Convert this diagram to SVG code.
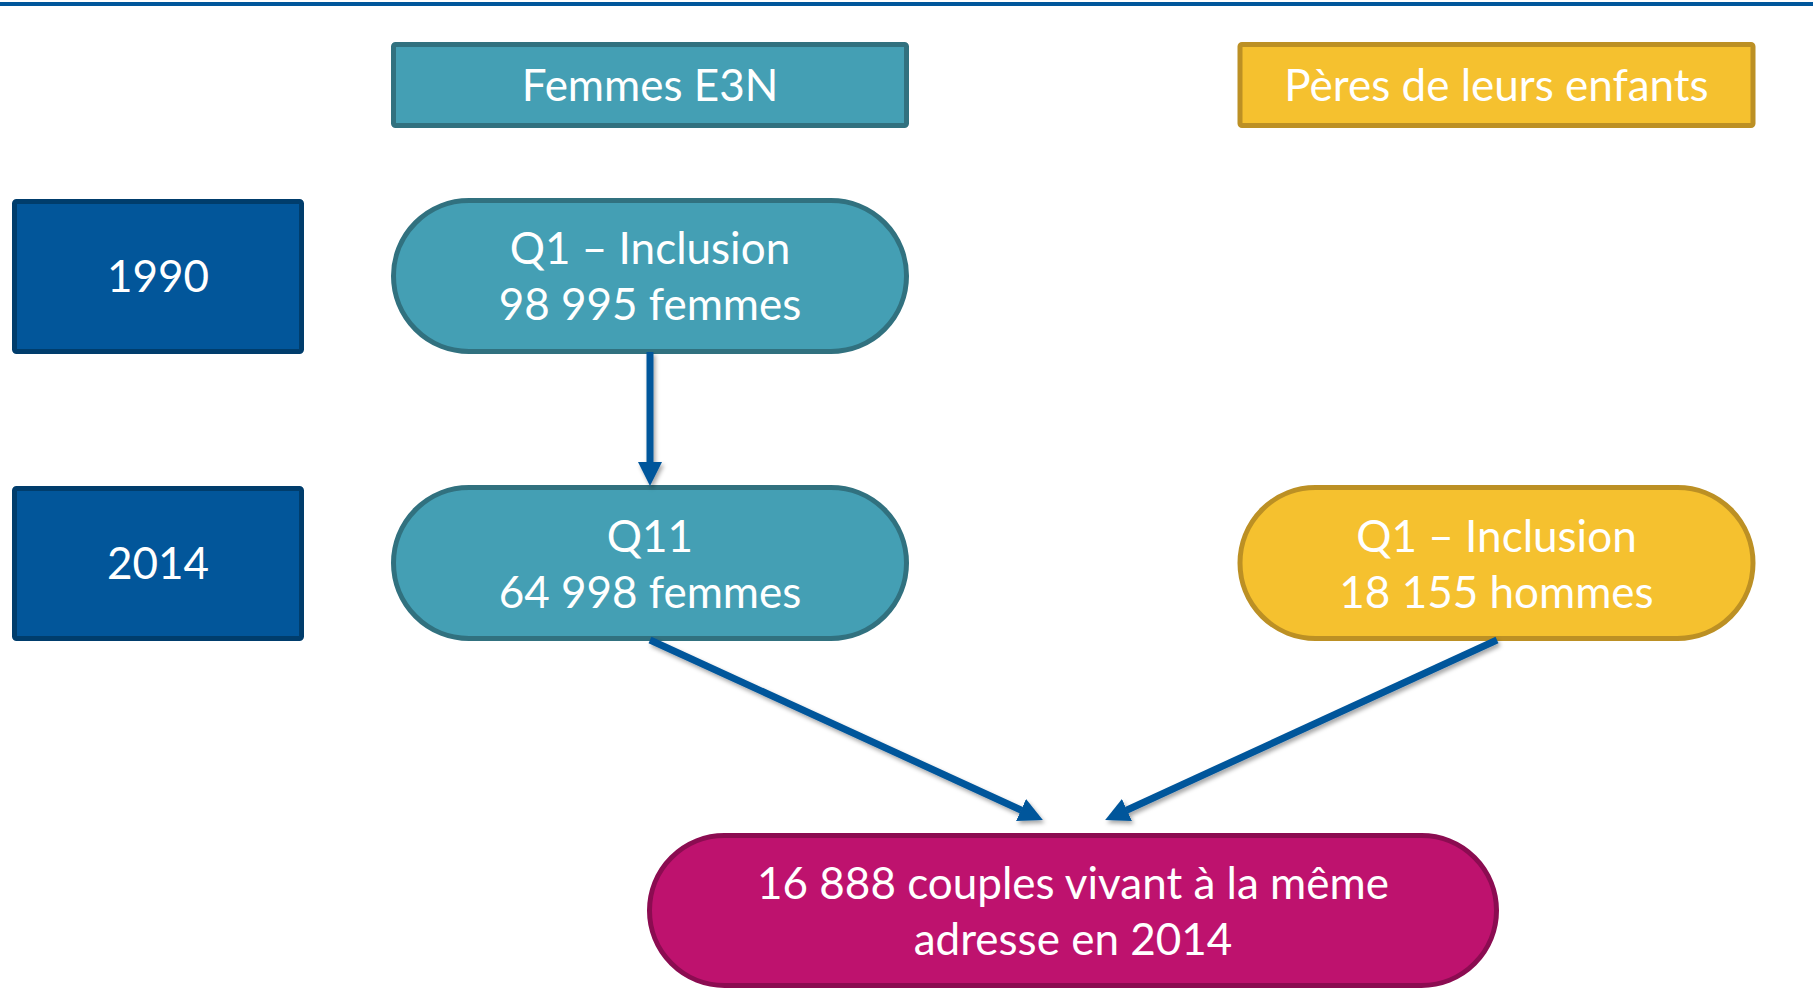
<svg xmlns="http://www.w3.org/2000/svg" width="1813" height="990" viewBox="0 0 1813 990">
  <style>
    .t { font-family: Lato, "Liberation Sans", sans-serif; font-size: 44px; fill: #ffffff; text-anchor: middle; }
    .teal { fill: #449FB4; stroke: #31717F; stroke-width: 5; }
    .year { fill: #02569A; stroke: #003D6C; stroke-width: 5; }
    .yel { fill: #F5C12F; stroke: #BC9024; stroke-width: 5; }
    .mag { fill: #BE126E; stroke: #8B0C51; stroke-width: 5; }
    .arrow { fill: none; stroke: #00569B; stroke-width: 7; marker-end: url(#head); }
  </style>
  <defs>
    <marker id="head" markerUnits="userSpaceOnUse" markerWidth="24" markerHeight="24" viewBox="0 0 24 24" refX="0.5" refY="12" orient="auto">
      <path d="M0,0 L24,12 L0,24 z" fill="#00569B"/>
    </marker>
    <filter id="shadow" x="-10%" y="-10%" width="130%" height="130%">
      <feDropShadow dx="2" dy="3" stdDeviation="2" flood-color="#000000" flood-opacity="0.35"/>
    </filter>
  </defs>

  <rect x="0" y="2" width="1813" height="4" fill="#00569B"/>

  <g id="header-femmes">
    <rect class="teal" x="393.5" y="44.5" width="513" height="81" rx="2"/>
    <text class="t" x="650" y="101">Femmes E3N</text>
  </g>
  <g id="header-peres">
    <rect class="yel" x="1240" y="44.5" width="513" height="81" rx="2"/>
    <text class="t" x="1496.5" y="101">Pères de leurs enfants</text>
  </g>

  <g id="year-1990">
    <rect class="year" x="14.5" y="201.5" width="287" height="150" rx="2"/>
    <text class="t" x="158" y="292">1990</text>
  </g>
  <g id="year-2014">
    <rect class="year" x="14.5" y="488.5" width="287" height="150" rx="2"/>
    <text class="t" x="158" y="579">2014</text>
  </g>

  <g id="q1-femmes">
    <rect class="teal" x="393.5" y="200.5" width="513" height="151" rx="75.5"/>
    <text class="t" x="650" y="264">Q1 – Inclusion</text>
    <text class="t" x="650" y="320">98 995 femmes</text>
  </g>
  <g id="q11-femmes">
    <rect class="teal" x="393.5" y="487.5" width="513" height="151" rx="75.5"/>
    <text class="t" x="650" y="552">Q11</text>
    <text class="t" x="650" y="608">64 998 femmes</text>
  </g>
  <g id="q1-hommes">
    <rect class="yel" x="1240" y="487.5" width="513" height="151" rx="75.5"/>
    <text class="t" x="1496.5" y="552">Q1 – Inclusion</text>
    <text class="t" x="1496.5" y="608">18 155 hommes</text>
  </g>
  <g id="couples">
    <rect class="mag" x="649.5" y="835.5" width="847" height="150" rx="75"/>
    <text class="t" x="1073" y="899">16 888 couples vivant à la même</text>
    <text class="t" x="1073" y="955">adresse en 2014</text>
  </g>

  <g id="connectors" filter="url(#shadow)">
    <path class="arrow" d="M650,352 L650,462.5"/>
    <path class="arrow" d="M650,640 L1021.5,810.2"/>
    <path class="arrow" d="M1497,640 L1126.5,810.2"/>
  </g>
</svg>
